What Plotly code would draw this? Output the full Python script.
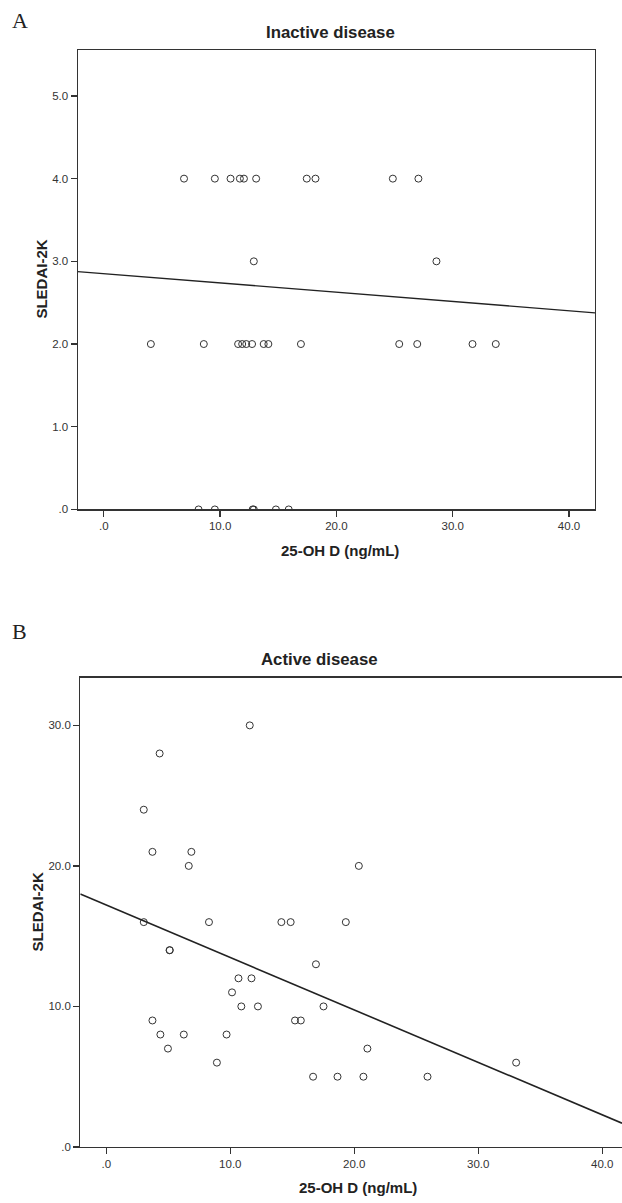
import plotly.graph_objects as go

W, H = 622, 1203

# ---------------- data ----------------
# Panel A: Inactive disease
vitd_inactive = [6.9, 9.55, 10.9, 11.7, 12.05, 13.1, 17.45, 18.2, 24.85, 27.05,
                 12.9, 28.6,
                 4.05, 8.6, 11.55, 11.9, 12.25, 12.75, 13.75, 14.15, 16.95, 25.4, 26.95, 31.7, 33.7,
                 8.15, 9.55, 12.8, 12.9, 14.8, 15.9]
sledai_inactive = [4, 4, 4, 4, 4, 4, 4, 4, 4, 4,
                   3, 3,
                   2, 2, 2, 2, 2, 2, 2, 2, 2, 2, 2, 2, 2,
                   0, 0, 0, 0, 0, 0]
fit_inactive = {"intercept": 2.851, "slope": -0.01122}

# Panel B: Active disease
vitd_active = [11.57, 4.3, 3.02, 3.72, 6.86, 6.65, 20.37,
               3.02, 8.28, 14.12, 14.87, 19.32,
               5.1, 5.12, 16.91, 10.66, 11.71, 10.14,
               10.89, 12.23, 17.52, 3.72, 15.22, 15.69,
               4.36, 6.25, 9.70, 4.97, 21.06, 8.92, 33.06,
               16.68, 18.65, 20.74, 25.91]
sledai_active = [30, 28, 24, 21, 21, 20, 20,
                 16, 16, 16, 16, 16,
                 14, 14, 13, 12, 12, 11,
                 10, 10, 10, 9, 9, 9,
                 8, 8, 8, 7, 7, 6, 6,
                 5, 5, 5, 5]
fit_active = {"intercept": 17.21, "slope": -0.373}

x_ticks = [0, 10, 20, 30, 40]
x_ticktext = [".0", "10.0", "20.0", "30.0", "40.0"]
ya_ticks = [0, 1, 2, 3, 4, 5]
ya_ticktext = [".0", "1.0", "2.0", "3.0", "4.0", "5.0"]
yb_ticks = [0, 10, 20, 30]
yb_ticktext = [".0", "10.0", "20.0", "30.0"]

xa_range = [-2.24, 42.23]
ya_range = [0, 5.55]
xb_range = [-2.1, 41.6]
yb_range = [0, 33.4]

# ---------------- helpers ----------------
def px(x):
    return x / W

def py(y):
    return 1 - y / H

INK = "#333333"
SANS = "Liberation Sans, Arial, sans-serif"
SERIF = "Liberation Serif, Times New Roman, serif"
TICKFONT = dict(family=SANS, size=11.5, color=INK)

fig = go.Figure()

marker = dict(symbol="circle-open", size=7, color=INK, line=dict(width=1, color=INK))

fig.add_trace(go.Scatter(x=vitd_inactive, y=sledai_inactive, mode="markers",
                         marker=marker, xaxis="x", yaxis="y", showlegend=False))
fig.add_trace(go.Scatter(x=xa_range,
                         y=[fit_inactive["intercept"] + fit_inactive["slope"] * v for v in xa_range],
                         mode="lines", line=dict(color="#222222", width=1.4),
                         xaxis="x", yaxis="y", showlegend=False))

fig.add_trace(go.Scatter(x=vitd_active, y=sledai_active, mode="markers",
                         marker=marker, xaxis="x2", yaxis="y2", showlegend=False))
fig.add_trace(go.Scatter(x=xb_range,
                         y=[fit_active["intercept"] + fit_active["slope"] * v for v in xb_range],
                         mode="lines", line=dict(color="#222222", width=1.6),
                         xaxis="x2", yaxis="y2", showlegend=False))

axis_common = dict(showgrid=False, zeroline=False, showline=True, linecolor=INK,
                   linewidth=1.2, ticks="outside", ticklen=6, tickwidth=1.2,
                   tickcolor=INK, tickfont=TICKFONT, fixedrange=True)

fig.update_layout(
    width=W, height=H,
    margin=dict(l=0, r=0, t=0, b=0),
    paper_bgcolor="white", plot_bgcolor="white",
    hovermode=False,
    xaxis=dict(domain=[px(77.7), px(595)], range=xa_range, anchor="y",
               tickvals=x_ticks, ticktext=x_ticktext, mirror=True, **axis_common),
    yaxis=dict(domain=[py(512), py(50.7)], range=ya_range, anchor="x",
               tickvals=ya_ticks, ticktext=ya_ticktext, mirror=True, **axis_common),
    xaxis2=dict(domain=[px(80.3), 1.0], range=xb_range, anchor="y2",
                tickvals=x_ticks, ticktext=x_ticktext, mirror=True, **axis_common),
    yaxis2=dict(domain=[py(1152.7), py(681)], range=yb_range, anchor="x2",
                tickvals=yb_ticks, ticktext=yb_ticktext, mirror=False, **axis_common),
)

def ann(text, x, y, size, family=SANS, angle=0, color="#222222"):
    fig.add_annotation(text=text, x=px(x), y=py(y), xref="paper", yref="paper",
                       showarrow=False, xanchor="center", yanchor="middle",
                       textangle=angle, font=dict(family=family, size=size, color=color))

ann("A", 20, 21, 22, family=SERIF)
ann("B", 19, 635, 22, family=SERIF)
ann("<b>Inactive disease</b>", 330, 33, 16.8)
ann("<b>Active disease</b>", 319, 663, 16.8)
ann("<b>SLEDAI-2K</b>", 42, 281, 15, angle=-90)
ann("<b>SLEDAI-2K</b>", 37, 917, 15, angle=-90)
ann("<b>25-OH D (ng/mL)</b>", 340, 553, 15)
ann("<b>25-OH D (ng/mL)</b>", 358, 1193, 15)

# remove the browser's default 8px page margin so the figure sits at the page origin
fig.write_html("out.html", config={"displayModeBar": False, "staticPlot": True},
               post_script="document.body.style.margin='0';")
